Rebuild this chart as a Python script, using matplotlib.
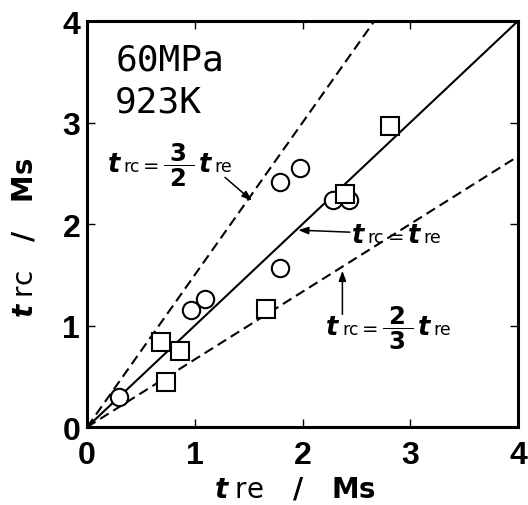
import matplotlib.pyplot as plt
import matplotlib.transforms as mtransforms
import numpy as np

# data (Ms)
circ_x = [0.30, 0.96, 1.09, 1.79, 1.79, 1.98, 2.28, 2.43]
circ_y = [0.30, 1.15, 1.26, 1.57, 2.41, 2.55, 2.24, 2.24]
sq_x = [0.69, 0.86, 0.73, 1.66, 2.39, 2.81]
sq_y = [0.84, 0.75, 0.44, 1.16, 2.30, 2.97]
ticks = [0, 1, 2, 3, 4]
ratios = [1.0, 1.5, 2.0 / 3.0]

fig = plt.figure(figsize=(5.28, 5.06), dpi=100)
ax = fig.add_axes([0.165, 0.154, 0.816, 0.8025])

xx = np.array([0, 4])
ax.plot(xx, ratios[0] * xx, color="black", lw=1.5, zorder=2)
ax.plot(xx, ratios[1] * xx, color="black", lw=1.5, dashes=(4.8, 2.6), zorder=2)
ax.plot(xx, ratios[2] * xx, color="black", lw=1.5, dashes=(4.8, 2.6), zorder=2)

ax.plot(circ_x, circ_y, "o", ms=12.5, mfc="white", mec="black", mew=1.5, zorder=3)
ax.plot(sq_x, sq_y, "s", ms=12.5, mfc="white", mec="black", mew=1.5, zorder=3)

ax.set_xlim(0, 4)
ax.set_ylim(0, 4)
ax.set_xticks(ticks)
ax.set_yticks(ticks)
ax.tick_params(direction="in", length=6, width=1, top=True, right=True)
ax.tick_params(axis="x", pad=9)
ax.tick_params(axis="y", pad=5)
for lab in ax.get_xticklabels() + ax.get_yticklabels():
    lab.set_family("Liberation Sans")
    lab.set_fontweight("bold")
    lab.set_fontsize(23)
for s in ax.spines.values():
    s.set_linewidth(2.2)

ax.set_xlabel(r"$\mathbfit{t}\;\mathrm{re}$   /   Ms", fontsize=20,
              fontweight="bold")
ax.set_ylabel(r"$\mathbfit{t}\;\mathrm{rc}$   /   Ms", fontsize=20,
              fontweight="bold")
ax.xaxis.set_label_coords(0.483, -0.118)
ax.yaxis.set_label_coords(-0.112, 0.468)

ax.text(0.26, 3.527, "60MPa", family="DejaVu Sans Mono", fontsize=26,
        va="baseline", ha="left")
ax.text(0.26, 3.113, "923K", family="DejaVu Sans Mono", fontsize=26,
        va="baseline", ha="left")

renderer = fig.canvas.get_renderer()
T = dict(fontsize=18.5, fontstyle="italic", fontweight="bold")
S = dict(fontsize=12.5)
E = dict(fontsize=14)
F = dict(fontsize=17.5)


def eq_label(x, y, pieces, gap=3.5):
    dx = 0
    for s, style in pieces:
        tr = mtransforms.offset_copy(ax.transData, fig=fig, x=dx, y=0,
                                     units="dots")
        t = ax.text(x, y, s, transform=tr, va="baseline", ha="left", **style)
        dx += t.get_window_extent(renderer).width + gap


eq_label(0.19, 2.52, [("t", T), ("rc", S), ("=", E),
                      (r"$\dfrac{\;\mathbf{3}\;}{\;\mathbf{2}\;}$", F),
                      ("t", T), ("re", S)])
eq_label(2.46, 1.823, [("t", T), ("rc", S), ("=", E), ("t", T), ("re", S)])
eq_label(2.22, 0.916, [("t", T), ("rc", S), ("=", E),
                       (r"$\dfrac{\;\mathbf{2}\;}{\;\mathbf{3}\;}$", F),
                       ("t", T), ("re", S)])

arrow = dict(arrowstyle="-|>,head_length=0.6,head_width=0.22", color="black",
             lw=1.1, shrinkA=0, shrinkB=0)
ax.annotate("", xy=(1.53, 2.23), xytext=(1.28, 2.46), arrowprops=arrow)
ax.annotate("", xy=(1.96, 1.94), xytext=(2.44, 1.92), arrowprops=arrow)
ax.annotate("", xy=(2.37, 1.54), xytext=(2.37, 1.11), arrowprops=arrow)

fig.savefig("out.png", dpi=100)
